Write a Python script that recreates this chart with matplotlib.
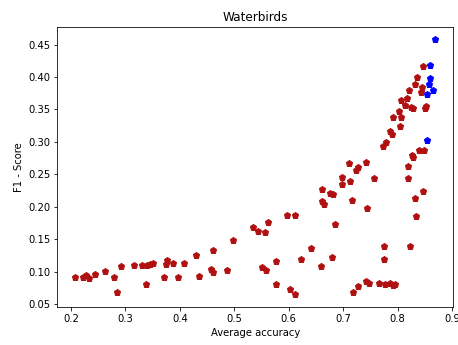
import matplotlib
matplotlib.use("Agg")
from matplotlib import pyplot as plt

# Red points: (average accuracy, F1 score)
redAccuracy = [0.208, 0.222, 0.228, 0.233, 0.244, 0.262, 0.279, 0.284, 0.292,
               0.315, 0.331, 0.337, 0.340, 0.345, 0.350, 0.371, 0.375, 0.377,
               0.388, 0.396, 0.408, 0.429, 0.436, 0.458, 0.461, 0.461, 0.486,
               0.498, 0.534, 0.544, 0.550, 0.557, 0.559, 0.561, 0.577, 0.577,
               0.597, 0.602, 0.611, 0.612, 0.622, 0.640, 0.661, 0.676, 0.681,
               0.661, 0.665, 0.684, 0.679, 0.660, 0.697, 0.698, 0.710, 0.712,
               0.716, 0.723, 0.728, 0.742, 0.744, 0.756, 0.717, 0.728, 0.741,
               0.747, 0.765, 0.777, 0.785, 0.791, 0.795, 0.774, 0.774, 0.822,
               0.833, 0.831, 0.847, 0.818, 0.818, 0.826, 0.829, 0.839, 0.849,
               0.773, 0.778, 0.785, 0.789, 0.804, 0.792, 0.806, 0.803, 0.806,
               0.814, 0.825, 0.829, 0.817, 0.820, 0.832, 0.835, 0.842, 0.844,
               0.847, 0.852, 0.850]
redScore = [0.092, 0.092, 0.094, 0.090, 0.097, 0.101, 0.092, 0.069, 0.108,
            0.110, 0.110, 0.081, 0.110, 0.112, 0.113, 0.092, 0.111, 0.118,
            0.114, 0.092, 0.113, 0.126, 0.093, 0.104, 0.100, 0.134, 0.102,
            0.149, 0.168, 0.163, 0.107, 0.161, 0.103, 0.177, 0.116, 0.081,
            0.188, 0.073, 0.188, 0.065, 0.119, 0.137, 0.227, 0.221, 0.220,
            0.209, 0.204, 0.173, 0.123, 0.109, 0.246, 0.235, 0.267, 0.240,
            0.210, 0.257, 0.261, 0.269, 0.198, 0.244, 0.069, 0.077, 0.085,
            0.082, 0.082, 0.081, 0.082, 0.080, 0.081, 0.140, 0.120, 0.139,
            0.185, 0.214, 0.225, 0.244, 0.263, 0.280, 0.277, 0.287, 0.288,
            0.294, 0.300, 0.317, 0.312, 0.325, 0.338, 0.338, 0.347, 0.364,
            0.357, 0.354, 0.352, 0.368, 0.380, 0.389, 0.400, 0.377, 0.384,
            0.417, 0.355, 0.352]

# Blue points
blueAccuracy = [0.869, 0.860, 0.859, 0.858, 0.864, 0.854, 0.853]
blueScore = [0.458, 0.418, 0.399, 0.390, 0.380, 0.374, 0.303]

# Make figure the same size as the reference
fig = plt.figure(figsize=(458 / 72, 345 / 72), dpi=72)
ax = fig.add_axes([0.1251, 0.1101, 0.8646, 0.8125])

# Draw markers
ax.plot(redAccuracy, redScore, marker="p", color="#b01010", ls="None",
        markersize=7)
ax.plot(blueAccuracy, blueScore, marker="p", color="blue", ls="None",
        markersize=7)

ax.set_xticks([0.2, 0.3, 0.4, 0.5, 0.6, 0.7, 0.8, 0.9])
ax.set_xlabel("Average accuracy")
ax.set_ylabel("F1 - Score")
ax.set_title("Waterbirds")

fig.savefig("out.png", dpi=72)
